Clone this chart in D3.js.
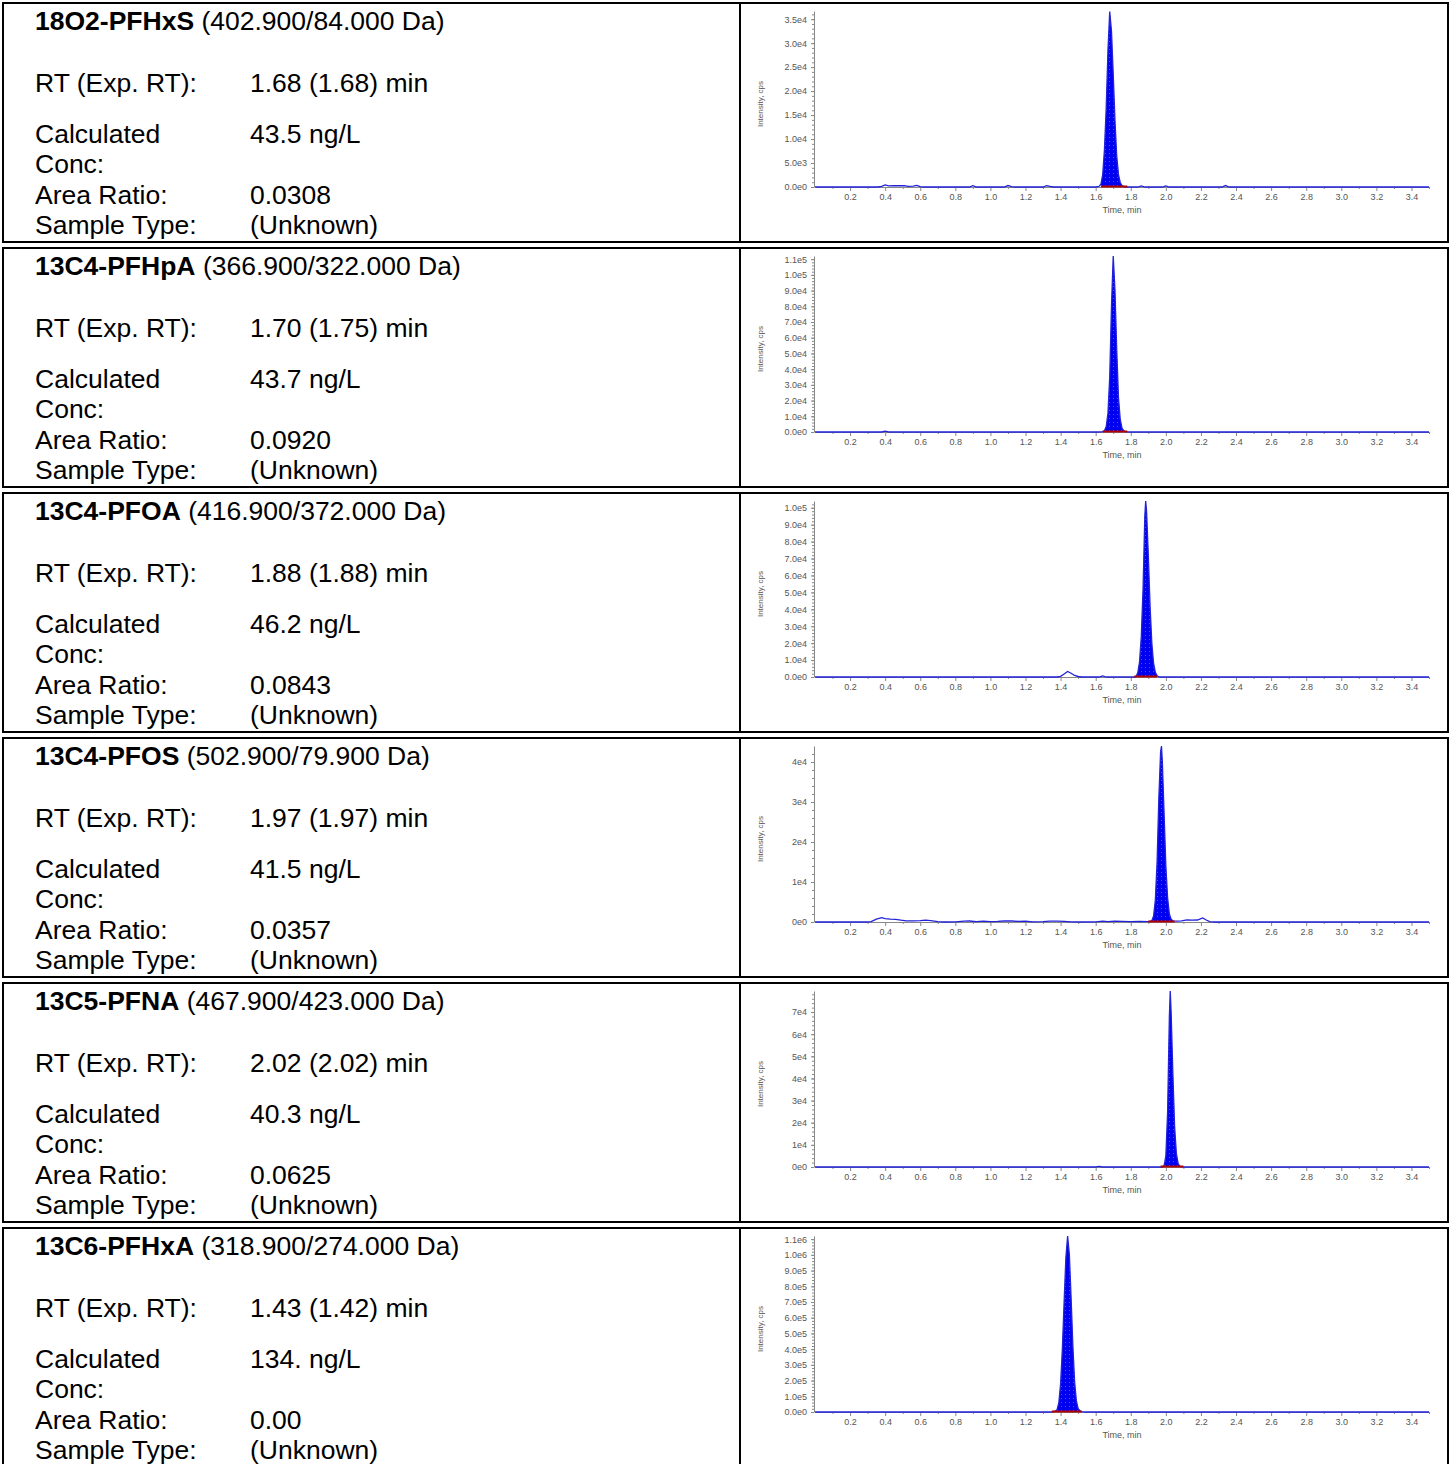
<!DOCTYPE html>
<html>
<head>
<meta charset="utf-8">
<script src="https://cdn.jsdelivr.net/npm/d3@7"></script>
<style>
  body { margin: 0; background: #fff; }
  svg { display: block; }
  .info { font-family: Arial, "Liberation Sans", sans-serif; font-size: 26.5px; fill: #000; }
  .axis text { font-family: Arial, "Liberation Sans", sans-serif; font-size: 9px; fill: #555; }
  .axis path, .axis line { stroke: #888; }
</style>
</head>
<body>
<div id="chart"></div>
<script>
// Compound summary, one entry per row
const compounds = ["18O2-PFHxS", "13C4-PFHpA", "13C4-PFOA", "13C4-PFOS", "13C5-PFNA", "13C6-PFHxA"];
const transitions = ["(402.900/84.000 Da)", "(366.900/322.000 Da)", "(416.900/372.000 Da)",
  "(502.900/79.900 Da)", "(467.900/423.000 Da)", "(318.900/274.000 Da)"];
const rtValues = ["1.68 (1.68) min", "1.70 (1.75) min", "1.88 (1.88) min", "1.97 (1.97) min", "2.02 (2.02) min", "1.43 (1.42) min"];
const concValues = ["43.5 ng/L", "43.7 ng/L", "46.2 ng/L", "41.5 ng/L", "40.3 ng/L", "134. ng/L"];
const areaRatios = ["0.0308", "0.0920", "0.0843", "0.0357", "0.0625", "0.00"];
const sampleTypes = ["(Unknown)", "(Unknown)", "(Unknown)", "(Unknown)", "(Unknown)", "(Unknown)"];

// Y axis ticks and labels per chromatogram
const yTickValues = [
  [0, 5000, 10000, 15000, 20000, 25000, 30000, 35000],
  [0, 10000, 20000, 30000, 40000, 50000, 60000, 70000, 80000, 90000, 100000, 110000],
  [0, 10000, 20000, 30000, 40000, 50000, 60000, 70000, 80000, 90000, 100000],
  [0, 10000, 20000, 30000, 40000],
  [0, 10000, 20000, 30000, 40000, 50000, 60000, 70000],
  [0, 100000, 200000, 300000, 400000, 500000, 600000, 700000, 800000, 900000, 1000000, 1100000]
];
const yTickLabels = [
  ["0.0e0", "5.0e3", "1.0e4", "1.5e4", "2.0e4", "2.5e4", "3.0e4", "3.5e4"],
  ["0.0e0", "1.0e4", "2.0e4", "3.0e4", "4.0e4", "5.0e4", "6.0e4", "7.0e4", "8.0e4", "9.0e4", "1.0e5", "1.1e5"],
  ["0.0e0", "1.0e4", "2.0e4", "3.0e4", "4.0e4", "5.0e4", "6.0e4", "7.0e4", "8.0e4", "9.0e4", "1.0e5"],
  ["0e0", "1e4", "2e4", "3e4", "4e4"],
  ["0e0", "1e4", "2e4", "3e4", "4e4", "5e4", "6e4", "7e4"],
  ["0.0e0", "1.0e5", "2.0e5", "3.0e5", "4.0e5", "5.0e5", "6.0e5", "7.0e5", "8.0e5", "9.0e5", "1.0e6", "1.1e6"]
];
const yMinorSteps = [1000, 2000, 2000, 2000, 2000, 20000];
const yMax = [36700, 112000, 104000, 44000, 79500, 1120000];

// x axis (time, min)
const xMajorTicks = [0.2, 0.4, 0.6, 0.8, 1.0, 1.2, 1.4, 1.6, 1.8, 2.0, 2.2, 2.4, 2.6, 2.8, 3.0, 3.2, 3.4];
const xMinorTicks = [0.1, 0.3, 0.5, 0.7, 0.9, 1.1, 1.3, 1.5, 1.7, 1.9, 2.1, 2.3, 2.5, 2.7, 2.9, 3.1, 3.3, 3.5];

// integrated peak window (min)
const integStart = [1.63, 1.64, 1.82, 1.90, 1.97, 1.35];
const integEnd = [1.78, 1.78, 1.95, 2.05, 2.10, 1.52];

// traces: [time, intensity]
const trace1 = [[0, 0], [0.36, 0], [0.38, 150], [0.40, 420], [0.42, 250], [0.45, 280], [0.48, 260], [0.51, 300],
  [0.53, 120], [0.56, 200], [0.58, 330], [0.60, 60], [0.62, 0], [0.88, 0], [0.90, 260], [0.92, 0], [1.08, 0],
  [1.10, 300], [1.12, 80], [1.14, 0], [1.30, 0], [1.32, 260], [1.34, 120], [1.36, 0], [1.60, 0], [1.62, 150],
  [1.63, 600], [1.64, 2600], [1.65, 7800], [1.66, 16500], [1.67, 28500], [1.68, 36600], [1.69, 32500],
  [1.70, 23500], [1.71, 13800], [1.72, 6400], [1.73, 2600], [1.74, 900], [1.75, 300], [1.76, 100], [1.78, 0],
  [1.84, 0], [1.86, 220], [1.88, 0], [1.98, 0], [2.00, 230], [2.02, 0], [2.32, 0], [2.34, 300], [2.36, 0], [3.5, 0]];
const trace2 = [[0, 0], [0.38, 0], [0.40, 500], [0.42, 0], [1.62, 0], [1.64, 200], [1.65, 800], [1.66, 3500],
  [1.67, 12000], [1.68, 35000], [1.69, 80000], [1.70, 112000], [1.71, 90000], [1.72, 52000], [1.73, 22000],
  [1.74, 8000], [1.75, 2500], [1.76, 700], [1.77, 200], [1.79, 0], [3.5, 0]];
const trace3 = [[0, 0], [1.38, 0], [1.40, 400], [1.42, 1800], [1.44, 3300], [1.46, 2200], [1.48, 900], [1.50, 300],
  [1.52, 0], [1.62, 0], [1.64, 600], [1.66, 0], [1.82, 0], [1.83, 300], [1.84, 2500], [1.85, 9000], [1.86, 24000],
  [1.87, 52000], [1.88, 95000], [1.885, 104000], [1.89, 98000], [1.90, 72000], [1.91, 42000], [1.92, 20000],
  [1.93, 8000], [1.94, 2800], [1.95, 700], [1.96, 100], [1.97, 0], [3.5, 0]];
const trace4 = [[0, 0], [0.30, 0], [0.32, 100], [0.35, 700], [0.38, 1100], [0.40, 850], [0.43, 700], [0.46, 650],
  [0.49, 450], [0.52, 300], [0.56, 300], [0.60, 320], [0.63, 450], [0.66, 350], [0.70, 100], [0.74, 0], [0.80, 50],
  [0.85, 200], [0.88, 250], [0.92, 100], [0.96, 200], [1.00, 100], [1.04, 150], [1.08, 250], [1.12, 250],
  [1.16, 150], [1.20, 200], [1.24, 50], [1.30, 100], [1.34, 200], [1.38, 200], [1.42, 150], [1.46, 50], [1.52, 0],
  [1.60, 50], [1.64, 200], [1.67, 100], [1.71, 200], [1.75, 150], [1.80, 100], [1.85, 150], [1.90, 100],
  [1.92, 300], [1.93, 1500], [1.94, 5500], [1.95, 15000], [1.96, 31000], [1.97, 42500], [1.975, 44000],
  [1.98, 40000], [1.99, 27000], [2.00, 14000], [2.01, 6000], [2.02, 2000], [2.03, 700], [2.04, 300], [2.06, 200],
  [2.09, 300], [2.12, 550], [2.15, 450], [2.18, 500], [2.21, 1000], [2.23, 500], [2.25, 100], [2.28, 0], [3.5, 0]];
const trace5 = [[0, 0], [1.60, 0], [1.62, 300], [1.64, 0], [1.98, 0], [1.99, 600], [2.00, 5000], [2.01, 25000],
  [2.02, 68000], [2.025, 79500], [2.03, 70000], [2.04, 42000], [2.05, 18000], [2.06, 6000], [2.07, 1500],
  [2.08, 300], [2.10, 0], [3.5, 0]];
const trace6 = [[0, 0], [1.34, 0], [1.36, 3000], [1.37, 6000], [1.38, 15000], [1.39, 60000], [1.40, 180000],
  [1.41, 400000], [1.42, 700000], [1.43, 980000], [1.44, 1120000], [1.45, 1000000], [1.46, 720000],
  [1.47, 420000], [1.48, 190000], [1.49, 70000], [1.50, 22000], [1.51, 8000], [1.52, 2000], [1.54, 0], [3.5, 0]];
const traces = [trace1, trace2, trace3, trace4, trace5, trace6];

const W = 1453, H = 1464, rowPitch = 245;

const svg = d3.select('#chart').append('svg')
  .attr('width', W)
  .attr('height', H);

// stippled blue fill used by the integrated peaks
const pat = svg.append('defs').append('pattern')
  .attr('id', 'stipple')
  .attr('width', 4).attr('height', 4)
  .attr('patternUnits', 'userSpaceOnUse');
pat.append('rect').attr('width', 4).attr('height', 4).attr('fill', '#0000f0');
pat.append('rect').attr('x', 1).attr('y', 1).attr('width', 1).attr('height', 1).attr('fill', '#4a4aff');

const x = d3.scaleLinear().domain([0, 3.5]).range([815, 1429]);

compounds.forEach((name, i) => {
  const y0 = i * rowPitch;
  const g = svg.append('g').attr('transform', `translate(0,${y0})`);

  // cell borders
  g.append('rect')
    .attr('x', 3).attr('y', 3)
    .attr('width', 1445).attr('height', 239)
    .attr('fill', 'none').attr('stroke', '#000').attr('stroke-width', 2);
  g.append('line')
    .attr('x1', 740).attr('x2', 740)
    .attr('y1', 3).attr('y2', 242)
    .attr('stroke', '#000').attr('stroke-width', 2);

  // left cell text
  const title = g.append('text').attr('class', 'info').attr('x', 35).attr('y', 30);
  title.append('tspan').attr('font-weight', 'bold').text(name);
  title.append('tspan').text(' ' + transitions[i]);

  const rows = [
    ['RT (Exp. RT):', rtValues[i], 92],
    ['Calculated', concValues[i], 143],
    ['Conc:', '', 173],
    ['Area Ratio:', areaRatios[i], 204],
    ['Sample Type:', sampleTypes[i], 234]
  ];
  rows.forEach(([label, value, by]) => {
    g.append('text').attr('class', 'info').attr('x', 35).attr('y', by).text(label);
    if (value) g.append('text').attr('class', 'info').attr('x', 250).attr('y', by).text(value);
  });

  // chromatogram
  const y = d3.scaleLinear().domain([0, yMax[i]]).range([187, 11]);

  const minorY = d3.range(0, yMax[i], yMinorSteps[i]);
  g.append('g').attr('class', 'axis')
    .attr('transform', 'translate(814,0)')
    .call(d3.axisLeft(y).tickValues(minorY).tickSize(2).tickFormat(''))
    .call(s => s.select('.domain').remove());
  g.append('g').attr('class', 'axis')
    .attr('transform', 'translate(814,0)')
    .call(d3.axisLeft(y).tickValues(yTickValues[i]).tickSize(3).tickPadding(4).tickSizeOuter(0)
      .tickFormat((d, j) => yTickLabels[i][j]));

  g.append('g').attr('class', 'axis')
    .attr('transform', 'translate(0,187)')
    .call(d3.axisBottom(x).tickValues(xMinorTicks).tickSize(2).tickFormat(''))
    .call(s => s.select('.domain').remove());
  g.append('g').attr('class', 'axis')
    .attr('transform', 'translate(0,187)')
    .call(d3.axisBottom(x).tickValues(xMajorTicks).tickSize(4).tickPadding(3).tickSizeOuter(0)
      .tickFormat(d3.format('.1f')));

  g.append('text')
    .attr('x', x(1.75)).attr('y', 213)
    .attr('text-anchor', 'middle')
    .style('font-family', 'Arial, sans-serif').style('font-size', '9px').style('fill', '#555')
    .text('Time, min');
  g.append('text')
    .attr('transform', `translate(763,104) rotate(-90)`)
    .attr('text-anchor', 'middle')
    .style('font-family', 'Arial, sans-serif').style('font-size', '8px').style('fill', '#555')
    .text('Intensity, cps');

  const data = traces[i];
  const inPeak = data.filter(d => d[0] >= integStart[i] && d[0] <= integEnd[i]);

  g.append('path')
    .datum(inPeak)
    .attr('fill', 'url(#stipple)')
    .attr('d', d3.area().x(d => x(d[0])).y0(y(0)).y1(d => y(d[1])));

  g.append('path')
    .datum(data)
    .attr('fill', 'none')
    .attr('stroke', '#2222d8')
    .attr('stroke-width', 1.3)
    .attr('d', d3.line().x(d => x(d[0])).y(d => y(d[1])));

  g.append('line')
    .attr('x1', x(integStart[i])).attr('x2', x(integEnd[i]))
    .attr('y1', y(0) - 0.5).attr('y2', y(0) - 0.5)
    .attr('stroke', '#b00000').attr('stroke-width', 2);
});
</script>
</body>
</html>
